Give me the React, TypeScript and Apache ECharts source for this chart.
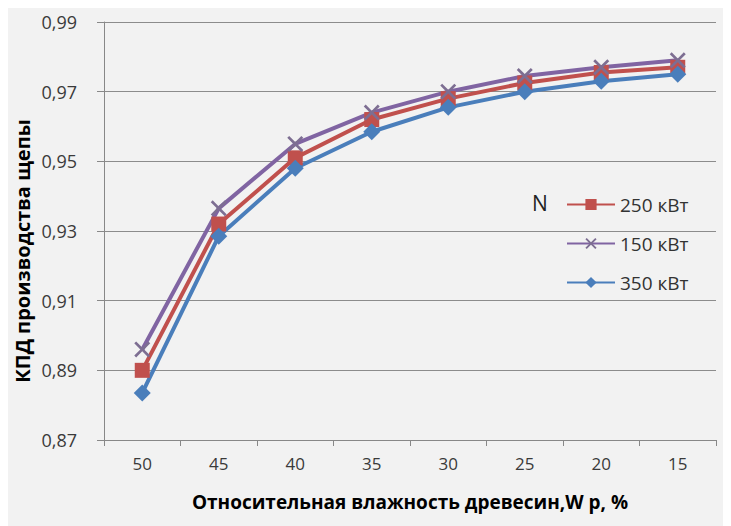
import React, { useEffect, useRef } from "react";
import * as echarts from "echarts";

const categories = ["50", "45", "40", "35", "30", "25", "20", "15"];
const kw250 = [0.890, 0.932, 0.951, 0.962, 0.968, 0.9725, 0.9755, 0.977];
const kw150 = [0.896, 0.9365, 0.955, 0.964, 0.970, 0.9745, 0.977, 0.979];
const kw350 = [0.8835, 0.9285, 0.948, 0.9585, 0.9655, 0.970, 0.973, 0.975];
const yMin = 0.87;
const yMax = 0.99;
const yStep = 0.02;
const names = ["250 кВт", "150 кВт", "350 кВт"];
const xTitle = "Относительная влажность древесин,W р, %";
const yTitle = "КПД производства щепы";

const toPlot = (v: number) => Math.round((v - yMin) * 10000) / 100;

const X_PATH = "path://M0,1.2 L1.2,0 L5,3.8 L8.8,0 L10,1.2 L6.2,5 L10,8.8 L8.8,10 L5,6.2 L1.2,10 L0,8.8 L3.8,5 Z";

export default function App() {
  const ref = useRef<HTMLDivElement>(null);
  useEffect(() => {
    if (!ref.current) return;
    const chart = echarts.init(ref.current, undefined, { renderer: "svg" });
    const font = "'Open Sans', 'Noto Sans', sans-serif";
    chart.setOption({
      animation: false,
      backgroundColor: "#f2f2f2",
      textStyle: { fontFamily: font },
      grid: { left: 96, right: 15, top: 14, bottom: 86, containLabel: false, outerBoundsMode: "none" },
      xAxis: {
        type: "category",
        data: categories,
        boundaryGap: true,
        name: xTitle,
        nameLocation: "middle",
        nameGap: 52,
        nameTextStyle: { fontSize: 19, fontWeight: "bold", color: "#000", fontFamily: font },
        axisLine: { show: true, lineStyle: { color: "#888", width: 1 } },
        axisTick: { show: true, alignWithLabel: false, length: 6, lineStyle: { color: "#888" } },
        axisLabel: { fontSize: 17, color: "#3a3a3a", margin: 15, fontFamily: font },
        splitLine: { show: false },
      },
      yAxis: {
        type: "value",
        min: 0,
        max: toPlot(yMax),
        interval: toPlot(yMin + yStep),
        axisLine: { show: true, lineStyle: { color: "#888", width: 1 } },
        axisTick: { show: true, length: 7, lineStyle: { color: "#888" } },
        axisLabel: {
          fontSize: 18,
          color: "#3a3a3a",
          margin: 27,
          fontFamily: font,
          formatter: (v: number) => (yMin + v / 100).toFixed(2).replace(".", ","),
        },
        splitLine: { show: true, lineStyle: { color: "#8c8c8c", width: 1 } },
      },
      legend: {
        orient: "vertical",
        left: 553,
        top: 182,
        itemWidth: 48,
        itemHeight: 14,
        itemGap: 20,
        textStyle: { fontSize: 19, color: "#333", fontFamily: font },
        data: names,
      },
      graphic: [
        {
          type: "text",
          left: 524,
          top: 184,
          style: { text: "N", fontSize: 21, fill: "#222", fontFamily: font },
        },
        {
          type: "text",
          x: 14,
          y: 243,
          rotation: Math.PI / 2,
          style: {
            text: yTitle,
            fontSize: 20,
            fontWeight: "bold",
            fill: "#000",
            fontFamily: font,
            align: "center",
            verticalAlign: "middle",
          },
        },
      ],
      series: [
        {
          name: names[0],
          type: "line",
          data: kw250.map(toPlot),
          symbol: "rect",
          symbolSize: 15,
          lineStyle: { color: "#c0504d", width: 4 },
          itemStyle: { color: "#c0504d" },
        },
        {
          name: names[1],
          type: "line",
          data: kw150.map(toPlot),
          symbol: X_PATH,
          symbolSize: 16,
          lineStyle: { color: "#8064a2", width: 4 },
          itemStyle: { color: "#7d6e92" },
        },
        {
          name: names[2],
          type: "line",
          data: kw350.map(toPlot),
          symbol: "diamond",
          symbolSize: 17,
          lineStyle: { color: "#4a7ebb", width: 4 },
          itemStyle: { color: "#4a7ebb" },
        },
      ],
    });
    return () => chart.dispose();
  }, []);
  return <div ref={ref} style={{ width: 723, height: 518 }} />;
}
